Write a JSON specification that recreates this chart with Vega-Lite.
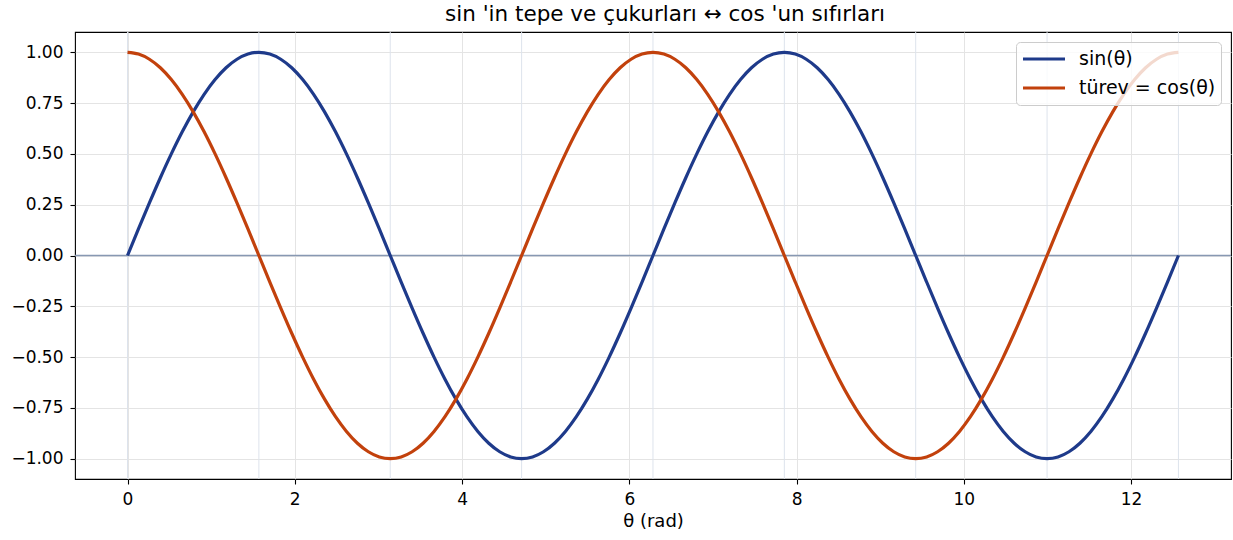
{
  "$schema": "https://vega.github.io/schema/vega-lite/v6.json",
  "width": 1156,
  "height": 447,
  "autosize": {"type": "none"},
  "padding": {"left": 75, "top": 32, "right": 2, "bottom": 61},
  "background": "white",
  "config": {
    "font": "DejaVu Sans",
    "view": {"stroke": "#000000", "strokeWidth": 1.1},
    "axis": {
      "domain": false,
      "grid": true,
      "gridColor": "#e4e4e4",
      "gridWidth": 1,
      "tickColor": "#000000",
      "tickSize": 5,
      "tickWidth": 1.1,
      "labelFont": "DejaVu Sans",
      "labelFontSize": 17,
      "labelColor": "#000000",
      "labelPadding": 7,
      "titleFont": "DejaVu Sans",
      "titleFontSize": 18,
      "titleFontWeight": "normal",
      "titleColor": "#000000"
    }
  },
  "title": {
    "text": "sin 'in tepe ve çukurları ↔ cos 'un sıfırları",
    "font": "DejaVu Sans",
    "fontSize": 21.5,
    "fontWeight": "normal",
    "color": "#000000",
    "anchor": "middle",
    "dx": 12,
    "offset": 6
  },
  "datasets": {
    "quarter": [
      {"t": 0}, {"t": 1.5708}, {"t": 3.1416}, {"t": 4.7124}, {"t": 6.2832},
      {"t": 7.854}, {"t": 9.4248}, {"t": 10.9956}, {"t": 12.5664}
    ],
    "curve": [
      {"t": 0, "sin": 0, "cos": 1},
      {"t": 0.1309, "sin": 0.1305, "cos": 0.9914},
      {"t": 0.2618, "sin": 0.2588, "cos": 0.9659},
      {"t": 0.3927, "sin": 0.3827, "cos": 0.9239},
      {"t": 0.5236, "sin": 0.5, "cos": 0.866},
      {"t": 0.6545, "sin": 0.6088, "cos": 0.7934},
      {"t": 0.7854, "sin": 0.7071, "cos": 0.7071},
      {"t": 0.9163, "sin": 0.7934, "cos": 0.6088},
      {"t": 1.0472, "sin": 0.866, "cos": 0.5},
      {"t": 1.1781, "sin": 0.9239, "cos": 0.3827},
      {"t": 1.309, "sin": 0.9659, "cos": 0.2588},
      {"t": 1.4399, "sin": 0.9914, "cos": 0.1305},
      {"t": 1.5708, "sin": 1, "cos": 0},
      {"t": 1.7017, "sin": 0.9914, "cos": -0.1305},
      {"t": 1.8326, "sin": 0.9659, "cos": -0.2588},
      {"t": 1.9635, "sin": 0.9239, "cos": -0.3827},
      {"t": 2.0944, "sin": 0.866, "cos": -0.5},
      {"t": 2.2253, "sin": 0.7934, "cos": -0.6088},
      {"t": 2.3562, "sin": 0.7071, "cos": -0.7071},
      {"t": 2.4871, "sin": 0.6088, "cos": -0.7934},
      {"t": 2.618, "sin": 0.5, "cos": -0.866},
      {"t": 2.7489, "sin": 0.3827, "cos": -0.9239},
      {"t": 2.8798, "sin": 0.2588, "cos": -0.9659},
      {"t": 3.0107, "sin": 0.1305, "cos": -0.9914},
      {"t": 3.1416, "sin": 0, "cos": -1},
      {"t": 3.2725, "sin": -0.1305, "cos": -0.9914},
      {"t": 3.4034, "sin": -0.2588, "cos": -0.9659},
      {"t": 3.5343, "sin": -0.3827, "cos": -0.9239},
      {"t": 3.6652, "sin": -0.5, "cos": -0.866},
      {"t": 3.7961, "sin": -0.6088, "cos": -0.7934},
      {"t": 3.927, "sin": -0.7071, "cos": -0.7071},
      {"t": 4.0579, "sin": -0.7934, "cos": -0.6088},
      {"t": 4.1888, "sin": -0.866, "cos": -0.5},
      {"t": 4.3197, "sin": -0.9239, "cos": -0.3827},
      {"t": 4.4506, "sin": -0.9659, "cos": -0.2588},
      {"t": 4.5815, "sin": -0.9914, "cos": -0.1305},
      {"t": 4.7124, "sin": -1, "cos": 0},
      {"t": 4.8433, "sin": -0.9914, "cos": 0.1305},
      {"t": 4.9742, "sin": -0.9659, "cos": 0.2588},
      {"t": 5.1051, "sin": -0.9239, "cos": 0.3827},
      {"t": 5.236, "sin": -0.866, "cos": 0.5},
      {"t": 5.3669, "sin": -0.7934, "cos": 0.6088},
      {"t": 5.4978, "sin": -0.7071, "cos": 0.7071},
      {"t": 5.6287, "sin": -0.6088, "cos": 0.7934},
      {"t": 5.7596, "sin": -0.5, "cos": 0.866},
      {"t": 5.8905, "sin": -0.3827, "cos": 0.9239},
      {"t": 6.0214, "sin": -0.2588, "cos": 0.9659},
      {"t": 6.1523, "sin": -0.1305, "cos": 0.9914},
      {"t": 6.2832, "sin": 0, "cos": 1},
      {"t": 6.4141, "sin": 0.1305, "cos": 0.9914},
      {"t": 6.545, "sin": 0.2588, "cos": 0.9659},
      {"t": 6.6759, "sin": 0.3827, "cos": 0.9239},
      {"t": 6.8068, "sin": 0.5, "cos": 0.866},
      {"t": 6.9377, "sin": 0.6088, "cos": 0.7934},
      {"t": 7.0686, "sin": 0.7071, "cos": 0.7071},
      {"t": 7.1995, "sin": 0.7934, "cos": 0.6088},
      {"t": 7.3304, "sin": 0.866, "cos": 0.5},
      {"t": 7.4613, "sin": 0.9239, "cos": 0.3827},
      {"t": 7.5922, "sin": 0.9659, "cos": 0.2588},
      {"t": 7.7231, "sin": 0.9914, "cos": 0.1305},
      {"t": 7.854, "sin": 1, "cos": 0},
      {"t": 7.9849, "sin": 0.9914, "cos": -0.1305},
      {"t": 8.1158, "sin": 0.9659, "cos": -0.2588},
      {"t": 8.2467, "sin": 0.9239, "cos": -0.3827},
      {"t": 8.3776, "sin": 0.866, "cos": -0.5},
      {"t": 8.5085, "sin": 0.7934, "cos": -0.6088},
      {"t": 8.6394, "sin": 0.7071, "cos": -0.7071},
      {"t": 8.7703, "sin": 0.6088, "cos": -0.7934},
      {"t": 8.9012, "sin": 0.5, "cos": -0.866},
      {"t": 9.0321, "sin": 0.3827, "cos": -0.9239},
      {"t": 9.163, "sin": 0.2588, "cos": -0.9659},
      {"t": 9.2939, "sin": 0.1305, "cos": -0.9914},
      {"t": 9.4248, "sin": 0, "cos": -1},
      {"t": 9.5557, "sin": -0.1305, "cos": -0.9914},
      {"t": 9.6866, "sin": -0.2588, "cos": -0.9659},
      {"t": 9.8175, "sin": -0.3827, "cos": -0.9239},
      {"t": 9.9484, "sin": -0.5, "cos": -0.866},
      {"t": 10.0793, "sin": -0.6088, "cos": -0.7934},
      {"t": 10.2102, "sin": -0.7071, "cos": -0.7071},
      {"t": 10.3411, "sin": -0.7934, "cos": -0.6088},
      {"t": 10.472, "sin": -0.866, "cos": -0.5},
      {"t": 10.6029, "sin": -0.9239, "cos": -0.3827},
      {"t": 10.7338, "sin": -0.9659, "cos": -0.2588},
      {"t": 10.8647, "sin": -0.9914, "cos": -0.1305},
      {"t": 10.9956, "sin": -1, "cos": 0},
      {"t": 11.1265, "sin": -0.9914, "cos": 0.1305},
      {"t": 11.2574, "sin": -0.9659, "cos": 0.2588},
      {"t": 11.3883, "sin": -0.9239, "cos": 0.3827},
      {"t": 11.5192, "sin": -0.866, "cos": 0.5},
      {"t": 11.6501, "sin": -0.7934, "cos": 0.6088},
      {"t": 11.781, "sin": -0.7071, "cos": 0.7071},
      {"t": 11.9119, "sin": -0.6088, "cos": 0.7934},
      {"t": 12.0428, "sin": -0.5, "cos": 0.866},
      {"t": 12.1737, "sin": -0.3827, "cos": 0.9239},
      {"t": 12.3046, "sin": -0.2588, "cos": 0.9659},
      {"t": 12.4355, "sin": -0.1305, "cos": 0.9914},
      {"t": 12.5664, "sin": 0, "cos": 1}
    ]
  },
  "layer": [
    {
      "data": {"name": "quarter"},
      "mark": {"type": "rule", "color": "#dde3ec", "strokeWidth": 1},
      "encoding": {
        "x": {
          "field": "t",
          "type": "quantitative",
          "scale": {"domain": [-0.628, 13.195], "nice": false, "zero": false},
          "title": "θ (rad)"
        }
      }
    },
    {
      "data": {"values": [{}]},
      "mark": {"type": "rule", "color": "#8798b2", "strokeWidth": 1.5},
      "encoding": {
        "y": {"datum": 0, "type": "quantitative", "title": null}
      }
    },
    {
      "data": {"name": "curve"},
      "transform": [{"fold": ["sin", "cos"], "as": ["fn", "val"]}],
      "mark": {"type": "line", "strokeWidth": 3.2, "interpolate": "monotone"},
      "encoding": {
        "x": {
          "field": "t",
          "type": "quantitative",
          "scale": {"domain": [-0.628, 13.195], "nice": false, "zero": false},
          "title": "θ (rad)",
          "axis": {"values": [0, 2, 4, 6, 8, 10, 12], "format": "d", "titlePadding": 5}
        },
        "y": {
          "field": "val",
          "type": "quantitative",
          "scale": {"domain": [-1.1, 1.1], "nice": false, "zero": false},
          "title": null,
          "axis": {"values": [-1, -0.75, -0.5, -0.25, 0, 0.25, 0.5, 0.75, 1], "format": ".2f"}
        },
        "color": {
          "field": "fn",
          "type": "nominal",
          "scale": {"domain": ["sin", "cos"], "range": ["#1e3a8a", "#c2410c"]},
          "legend": {
            "title": null,
            "orient": "top-right",
            "offset": 10,
            "fillColor": "rgba(255,255,255,0.8)",
            "strokeColor": "#cccccc",
            "cornerRadius": 4,
            "padding": 5,
            "symbolType": "stroke",
            "symbolStrokeWidth": 3.2,
            "symbolSize": 1764,
            "clipHeight": 24,
            "labelFontSize": 19,
            "labelColor": "#000000",
            "labelOffset": 12,
            "rowPadding": 5,
            "labelExpr": "datum.label == 'sin' ? 'sin(θ)' : 'türev = cos(θ)'"
          }
        }
      }
    }
  ]
}
